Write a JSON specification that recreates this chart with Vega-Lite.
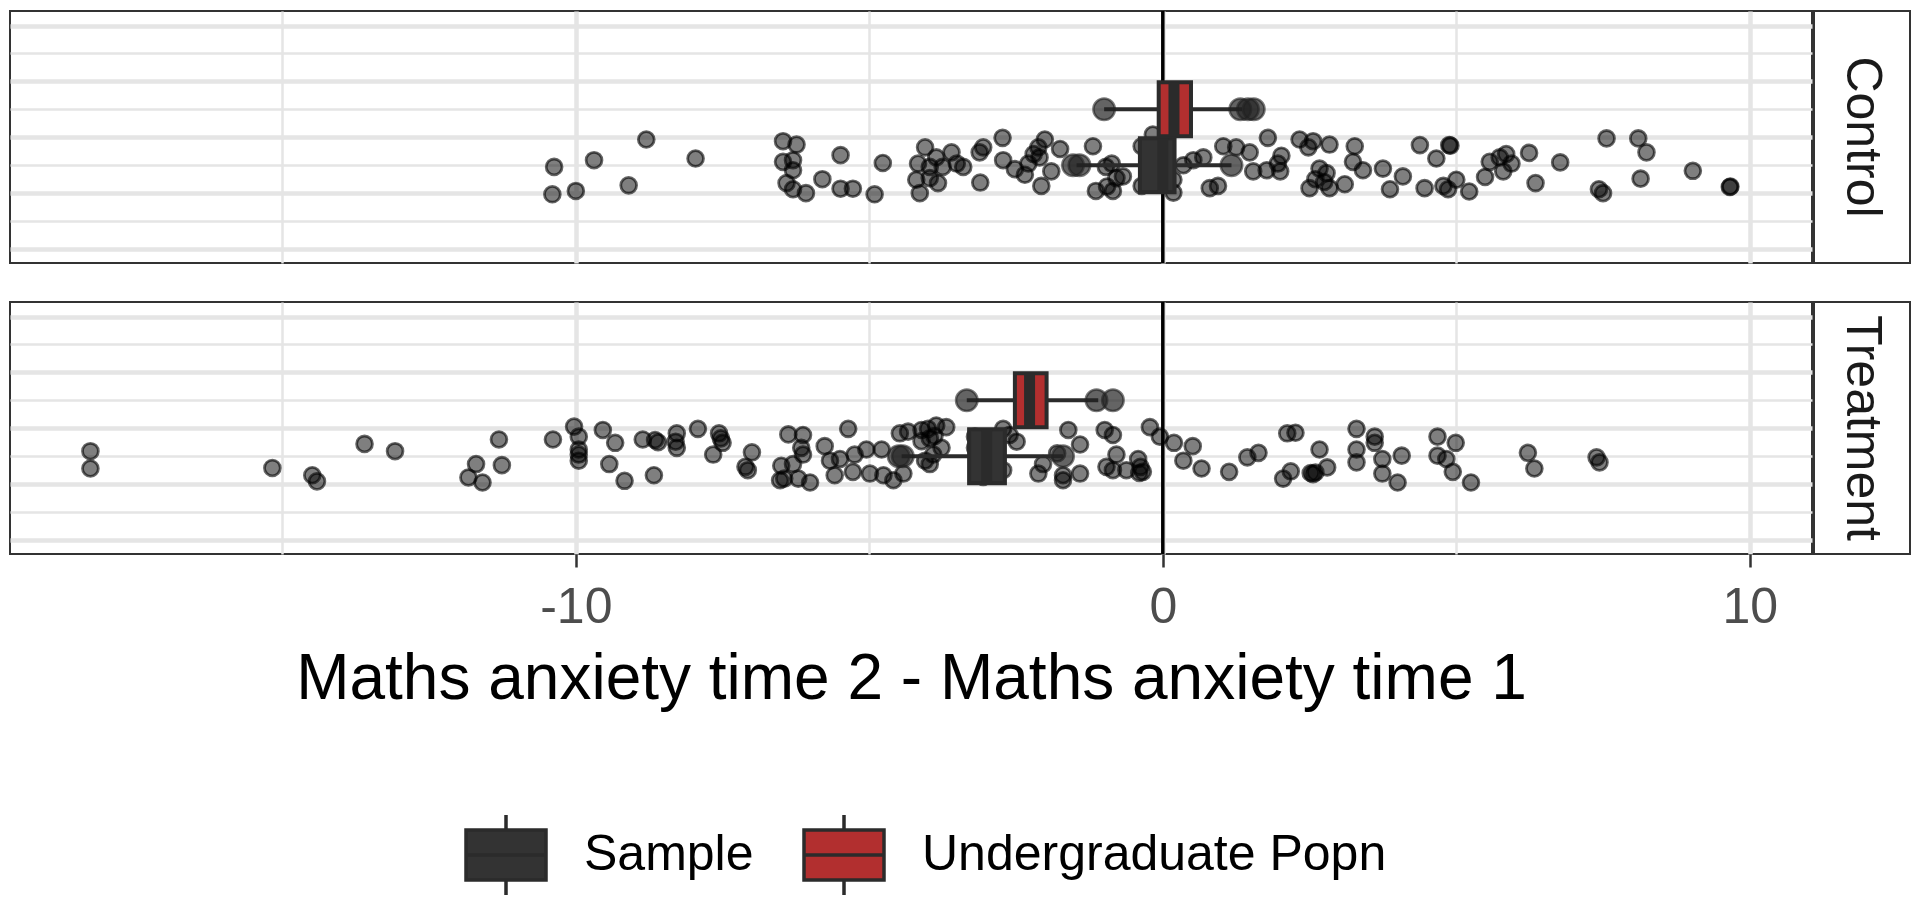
{
  "$schema": "https://vega.github.io/schema/vega-lite/v6.json",
  "background": "white",
  "padding": {"left": 9, "top": 8, "right": 5, "bottom": 5},
  "config": {
    "font": "Liberation Sans",
    "view": {"stroke": "#333333", "strokeWidth": 2},
    "axisY": {"minExtent": 0, "maxExtent": 0, "offset": 0}
  },
  "datasets": {
    "points": [
      {"group":"Control","x":-10.37,"y":1.47},{"group":"Control","x":-10.40,"y":0.98},{"group":"Control","x":-10.0,"y":1.04},{"group":"Control","x":-9.69,"y":1.59},{"group":"Control","x":-9.10,"y":1.14},{"group":"Control","x":-8.80,"y":1.96},{"group":"Control","x":-7.96,"y":1.62},{"group":"Control","x":-6.47,"y":1.93},{"group":"Control","x":-6.24,"y":1.87},{"group":"Control","x":-6.47,"y":1.56},{"group":"Control","x":-6.30,"y":1.59},{"group":"Control","x":-6.30,"y":1.41},{"group":"Control","x":-6.41,"y":1.18},{"group":"Control","x":-6.30,"y":1.07},{"group":"Control","x":-6.08,"y":1.00},{"group":"Control","x":-5.80,"y":1.25},{"group":"Control","x":-5.49,"y":1.68},{"group":"Control","x":-5.49,"y":1.08},{"group":"Control","x":-5.28,"y":1.08},{"group":"Control","x":-4.91,"y":0.98},{"group":"Control","x":-4.77,"y":1.54},{"group":"Control","x":-4.05,"y":1.82},{"group":"Control","x":-4.17,"y":1.53},{"group":"Control","x":-4.14,"y":1.00},{"group":"Control","x":-4.20,"y":1.24},{"group":"Control","x":-3.97,"y":1.27},{"group":"Control","x":-3.83,"y":1.18},{"group":"Control","x":-3.86,"y":1.64},{"group":"Control","x":-3.60,"y":1.73},{"group":"Control","x":-3.51,"y":1.53},{"group":"Control","x":-3.97,"y":1.47},{"group":"Control","x":-3.75,"y":1.47},
      {"group":"Control","x":-3.40,"y":1.47},{"group":"Control","x":-3.12,"y":1.73},{"group":"Control","x":-3.06,"y":1.82},{"group":"Control","x":-3.11,"y":1.19},{"group":"Control","x":-2.73,"y":1.99},{"group":"Control","x":-2.72,"y":1.59},{"group":"Control","x":-2.52,"y":1.43},{"group":"Control","x":-2.35,"y":1.33},{"group":"Control","x":-2.29,"y":1.53},{"group":"Control","x":-2.12,"y":1.82},{"group":"Control","x":-2.01,"y":1.96},{"group":"Control","x":-2.10,"y":1.64},{"group":"Control","x":-2.07,"y":1.13},{"group":"Control","x":-1.90,"y":1.39},{"group":"Control","x":-1.75,"y":1.79},{"group":"Control","x":-1.19,"y":1.84},{"group":"Control","x":-1.14,"y":1.04},{"group":"Control","x":-0.87,"y":1.53},{"group":"Control","x":-0.85,"y":1.04},{"group":"Control","x":-0.79,"y":1.27},{"group":"Control","x":-0.68,"y":1.30},{"group":"Control","x":-0.36,"y":1.84},{"group":"Control","x":-0.36,"y":1.13},{"group":"Control","x":0.18,"y":1.24},{"group":"Control","x":0.18,"y":1.01},{"group":"Control","x":-0.17,"y":2.05},{"group":"Control","x":0.52,"y":1.59},{"group":"Control","x":0.69,"y":1.64},{"group":"Control","x":0.80,"y":1.09},{"group":"Control","x":0.94,"y":1.13},{"group":"Control","x":1.03,"y":1.84},{"group":"Control","x":1.25,"y":1.82},{"group":"Control","x":1.48,"y":1.73},{"group":"Control","x":1.54,"y":1.39},{"group":"Control","x":1.77,"y":1.41},{"group":"Control","x":1.79,"y":1.99},{"group":"Control","x":1.96,"y":1.53},{"group":"Control","x":2.02,"y":1.67},{"group":"Control","x":2.00,"y":1.39},{"group":"Control","x":2.33,"y":1.96},{"group":"Control","x":2.48,"y":1.82},{"group":"Control","x":2.56,"y":1.93},{"group":"Control","x":2.84,"y":1.87},{"group":"Control","x":2.67,"y":1.44},{"group":"Control","x":2.79,"y":1.36},{"group":"Control","x":2.50,"y":1.09},{"group":"Control","x":2.84,"y":1.09},{"group":"Control","x":3.10,"y":1.16},{"group":"Control","x":3.27,"y":1.84},{"group":"Control","x":3.24,"y":1.56},{"group":"Control","x":3.41,"y":1.41},{"group":"Control","x":3.75,"y":1.44},{"group":"Control","x":3.87,"y":1.07},
      {"group":"Control","x":-2.2,"y":1.7},{"group":"Control","x":-0.95,"y":1.12},{"group":"Control","x":2.6,"y":1.25},{"group":"Control","x":2.75,"y":1.2},{"group":"Control","x":-0.97,"y":1.47},{"group":"Control","x":0.35,"y":1.5},
      {"group":"Control","x":4.09,"y":1.30},{"group":"Control","x":4.38,"y":1.86},{"group":"Control","x":4.66,"y":1.62},{"group":"Control","x":4.88,"y":1.86},{"group":"Control","x":4.90,"y":1.85},{"group":"Control","x":4.46,"y":1.09},{"group":"Control","x":4.78,"y":1.13},{"group":"Control","x":4.86,"y":1.07},{"group":"Control","x":5.00,"y":1.24},{"group":"Control","x":5.22,"y":1.03},{"group":"Control","x":5.49,"y":1.29},{"group":"Control","x":5.57,"y":1.56},{"group":"Control","x":5.74,"y":1.64},{"group":"Control","x":5.85,"y":1.70},{"group":"Control","x":5.80,"y":1.39},{"group":"Control","x":5.94,"y":1.53},{"group":"Control","x":6.24,"y":1.72},{"group":"Control","x":6.35,"y":1.18},{"group":"Control","x":6.77,"y":1.55},{"group":"Control","x":7.43,"y":1.07},{"group":"Control","x":7.50,"y":1.00},{"group":"Control","x":7.56,"y":1.98},{"group":"Control","x":8.10,"y":1.98},{"group":"Control","x":8.24,"y":1.73},{"group":"Control","x":8.14,"y":1.26},{"group":"Control","x":9.03,"y":1.40},{"group":"Control","x":9.66,"y":1.11},{"group":"Control","x":9.67,"y":1.12},
      {"group":"Treatment","x":-18.27,"y":1.59},{"group":"Treatment","x":-18.27,"y":1.28},{"group":"Treatment","x":-15.17,"y":1.29},{"group":"Treatment","x":-14.49,"y":1.16},{"group":"Treatment","x":-14.41,"y":1.05},{"group":"Treatment","x":-13.60,"y":1.72},{"group":"Treatment","x":-13.08,"y":1.59},{"group":"Treatment","x":-11.83,"y":1.12},{"group":"Treatment","x":-11.59,"y":1.03},{"group":"Treatment","x":-11.70,"y":1.36},{"group":"Treatment","x":-11.26,"y":1.34},{"group":"Treatment","x":-11.31,"y":1.80},{"group":"Treatment","x":-10.39,"y":1.80},{"group":"Treatment","x":-10.03,"y":2.03},{"group":"Treatment","x":-9.95,"y":1.85},{"group":"Treatment","x":-9.95,"y":1.62},{"group":"Treatment","x":-9.95,"y":1.42},{"group":"Treatment","x":-9.95,"y":1.53},{"group":"Treatment","x":-9.54,"y":1.97},{"group":"Treatment","x":-9.33,"y":1.74},{"group":"Treatment","x":-9.43,"y":1.36},{"group":"Treatment","x":-9.17,"y":1.06},{"group":"Treatment","x":-8.86,"y":1.80},{"group":"Treatment","x":-8.65,"y":1.79},{"group":"Treatment","x":-8.60,"y":1.75},{"group":"Treatment","x":-8.67,"y":1.16},{"group":"Treatment","x":-8.28,"y":1.91},{"group":"Treatment","x":-8.28,"y":1.65},{"group":"Treatment","x":-8.30,"y":1.76},{"group":"Treatment","x":-7.92,"y":1.99},{"group":"Treatment","x":-7.66,"y":1.53},{"group":"Treatment","x":-7.56,"y":1.91},{"group":"Treatment","x":-7.50,"y":1.74},{"group":"Treatment","x":-7.53,"y":1.82},{"group":"Treatment","x":-7.00,"y":1.57},{"group":"Treatment","x":-7.11,"y":1.31},{"group":"Treatment","x":-7.07,"y":1.25},
      {"group":"Treatment","x":-6.38,"y":1.89},{"group":"Treatment","x":-6.13,"y":1.88},{"group":"Treatment","x":-6.16,"y":1.65},{"group":"Treatment","x":-6.13,"y":1.53},{"group":"Treatment","x":-6.50,"y":1.33},{"group":"Treatment","x":-6.30,"y":1.36},{"group":"Treatment","x":-6.52,"y":1.07},{"group":"Treatment","x":-6.45,"y":1.10},{"group":"Treatment","x":-6.21,"y":1.10},{"group":"Treatment","x":-6.01,"y":1.03},{"group":"Treatment","x":-5.76,"y":1.68},{"group":"Treatment","x":-5.67,"y":1.42},{"group":"Treatment","x":-5.59,"y":1.16},{"group":"Treatment","x":-5.50,"y":1.45},{"group":"Treatment","x":-5.36,"y":1.99},
      {"group":"Treatment","x":-5.25,"y":1.53},{"group":"Treatment","x":-5.28,"y":1.22},{"group":"Treatment","x":-5.05,"y":1.62},{"group":"Treatment","x":-4.99,"y":1.19},{"group":"Treatment","x":-4.79,"y":1.62},{"group":"Treatment","x":-4.76,"y":1.16},{"group":"Treatment","x":-4.59,"y":1.07},{"group":"Treatment","x":-4.48,"y":1.91},{"group":"Treatment","x":-4.34,"y":1.94},{"group":"Treatment","x":-4.42,"y":1.19},{"group":"Treatment","x":-4.11,"y":1.97},{"group":"Treatment","x":-4.00,"y":1.99},{"group":"Treatment","x":-3.86,"y":2.05},{"group":"Treatment","x":-3.69,"y":2.02},{"group":"Treatment","x":-4.11,"y":1.77},{"group":"Treatment","x":-3.97,"y":1.82},{"group":"Treatment","x":-3.89,"y":1.86},{"group":"Treatment","x":-4.05,"y":1.42},{"group":"Treatment","x":-3.97,"y":1.36},{"group":"Treatment","x":-3.77,"y":1.65},{"group":"Treatment","x":-3.91,"y":1.53},{"group":"Treatment","x":-3.20,"y":1.85},{"group":"Treatment","x":-3.20,"y":1.65},{"group":"Treatment","x":-3.06,"y":1.13},{"group":"Treatment","x":-2.72,"y":1.99},{"group":"Treatment","x":-2.61,"y":1.88},{"group":"Treatment","x":-2.49,"y":1.76},{"group":"Treatment","x":-2.72,"y":1.25},{"group":"Treatment","x":-2.12,"y":1.19},{"group":"Treatment","x":-2.04,"y":1.36},{"group":"Treatment","x":-1.61,"y":1.97},{"group":"Treatment","x":-1.41,"y":1.71},{"group":"Treatment","x":-1.80,"y":1.55},{"group":"Treatment","x":-1.70,"y":1.16},{"group":"Treatment","x":-1.41,"y":1.19},{"group":"Treatment","x":-1.70,"y":1.07},{"group":"Treatment","x":-0.99,"y":1.97},{"group":"Treatment","x":-0.85,"y":1.88},{"group":"Treatment","x":-0.79,"y":1.53},{"group":"Treatment","x":-0.96,"y":1.31},{"group":"Treatment","x":-0.85,"y":1.25},{"group":"Treatment","x":-0.62,"y":1.25},{"group":"Treatment","x":-0.42,"y":1.45},{"group":"Treatment","x":-0.38,"y":1.31},{"group":"Treatment","x":-0.34,"y":1.22},{"group":"Treatment","x":-0.40,"y":1.20},{"group":"Treatment","x":-0.22,"y":2.02},{"group":"Treatment","x":-0.05,"y":1.85},
      {"group":"Treatment","x":0.19,"y":1.74},{"group":"Treatment","x":0.51,"y":1.68},{"group":"Treatment","x":0.35,"y":1.42},{"group":"Treatment","x":0.66,"y":1.28},{"group":"Treatment","x":1.13,"y":1.22},{"group":"Treatment","x":1.44,"y":1.48},{"group":"Treatment","x":1.63,"y":1.56},{"group":"Treatment","x":2.12,"y":1.91},{"group":"Treatment","x":2.26,"y":1.92},{"group":"Treatment","x":2.05,"y":1.10},{"group":"Treatment","x":2.18,"y":1.23},{"group":"Treatment","x":2.52,"y":1.20},{"group":"Treatment","x":2.56,"y":1.18},{"group":"Treatment","x":2.60,"y":1.21},{"group":"Treatment","x":2.80,"y":1.30},{"group":"Treatment","x":2.67,"y":1.62},{"group":"Treatment","x":3.30,"y":1.99},{"group":"Treatment","x":3.61,"y":1.85},{"group":"Treatment","x":3.61,"y":1.74},{"group":"Treatment","x":3.30,"y":1.62},{"group":"Treatment","x":3.30,"y":1.39},{"group":"Treatment","x":3.74,"y":1.45},{"group":"Treatment","x":4.07,"y":1.51},{"group":"Treatment","x":3.74,"y":1.19},{"group":"Treatment","x":4.00,"y":1.03},{"group":"Treatment","x":4.68,"y":1.85},{"group":"Treatment","x":4.99,"y":1.74},{"group":"Treatment","x":4.68,"y":1.51},{"group":"Treatment","x":4.83,"y":1.45},{"group":"Treatment","x":4.94,"y":1.22},{"group":"Treatment","x":5.25,"y":1.03},{"group":"Treatment","x":6.22,"y":1.56},{"group":"Treatment","x":6.33,"y":1.28},{"group":"Treatment","x":7.39,"y":1.48},{"group":"Treatment","x":7.44,"y":1.39}
    ],
    "boxes": [
      {"group":"Control","type":"Sample","level":1.5,"q1":-0.39,"q3":0.20,"med":0.0,"lo":-1.47,"hi":1.17},
      {"group":"Control","type":"Undergraduate Popn","level":2.5,"q1":-0.07,"q3":0.48,"med":0.19,"lo":-1.0,"hi":1.35},
      {"group":"Treatment","type":"Sample","level":1.5,"q1":-3.30,"q3":-2.69,"med":-3.0,"lo":-4.45,"hi":-1.70},
      {"group":"Treatment","type":"Undergraduate Popn","level":2.5,"q1":-2.52,"q3":-1.98,"med":-2.27,"lo":-3.34,"hi":-1.1}
    ],
    "outliers": [
      {"group":"Control","type":"Sample","level":1.5,"x":-1.53},
      {"group":"Control","type":"Sample","level":1.5,"x":-1.42},
      {"group":"Control","type":"Sample","level":1.5,"x":1.17},
      {"group":"Control","type":"Undergraduate Popn","level":2.5,"x":-1.0},
      {"group":"Control","type":"Undergraduate Popn","level":2.5,"x":1.32},
      {"group":"Control","type":"Undergraduate Popn","level":2.5,"x":1.45},
      {"group":"Control","type":"Undergraduate Popn","level":2.5,"x":1.55},
      {"group":"Treatment","type":"Sample","level":1.5,"x":-4.5},
      {"group":"Treatment","type":"Sample","level":1.5,"x":-4.43},
      {"group":"Treatment","type":"Sample","level":1.5,"x":-1.70},
      {"group":"Treatment","type":"Undergraduate Popn","level":2.5,"x":-3.34},
      {"group":"Treatment","type":"Undergraduate Popn","level":2.5,"x":-1.13},
      {"group":"Treatment","type":"Undergraduate Popn","level":2.5,"x":-0.85}
    ],
    "strips": [{"group":"Control"},{"group":"Treatment"}]
  },
  "resolve": {"scale": {"color": "shared"}, "legend": {"color": "shared"}},
  "spacing": 33,
  "vconcat": [
    {
      "spacing": 0,
      "hconcat": [
        {
          "width": 1802, "height": 252,
          "resolve": {"axis": {"y": "independent"}},
          "layer": [
            {
              "data": {"name": "points"},
              "transform": [{"filter": "datum.group === 'Control'"}],
              "mark": {"type": "circle", "size": 250, "color": "black", "fillOpacity": 0.5, "stroke": "black", "strokeOpacity": 0.6, "strokeWidth": 2.8},
              "encoding": {
                "x": {"field": "x", "type": "quantitative", "scale": {"domain": [-19.64, 11.06], "nice": false, "zero": false},
                  "axis": {"title": null, "labels": false, "ticks": false, "domain": false, "grid": true, "values": [-15, -10, -5, 0, 5, 10], "gridColor": "#E5E5E5", "gridOpacity": 1, "gridWidth": {"condition": {"test": "datum.value % 10 === 0", "value": 4.5}, "value": 2.5}}},
                "y": {"field": "y", "type": "quantitative", "scale": {"domain": [-0.16, 4.17], "nice": false, "zero": false},
                  "axis": {"orient": "left", "title": null, "labels": false, "ticks": false, "domain": false, "minExtent": 0, "maxExtent": 0, "grid": true, "values": [0.5, 1.5, 2.5, 3.5], "gridColor": "#E5E5E5", "gridOpacity": 1, "gridWidth": 2.5}}
              }
            },
            {
              "data": {"values": [{"zero": 0}]},
              "mark": {"type": "rule", "color": "black", "strokeWidth": 3.5},
              "encoding": {"x": {"field": "zero", "type": "quantitative"}}
            },
            {
              "data": {"name": "boxes"},
              "transform": [{"filter": "datum.group === 'Control'"}],
              "mark": {"type": "rule", "color": "#2b2b2b", "strokeWidth": 4},
              "encoding": {"x": {"field": "lo", "type": "quantitative"}, "x2": {"field": "hi"},
                "y": {"field": "level", "type": "quantitative", "axis": {"orient": "right", "title": null, "labels": false, "ticks": false, "domain": false, "minExtent": 0, "maxExtent": 0, "grid": true, "values": [0, 1, 2, 3, 4], "gridColor": "#E5E5E5", "gridOpacity": 1, "gridWidth": 4.5}}}
            },
            {
              "data": {"name": "boxes"},
              "transform": [{"filter": "datum.group === 'Control'"}],
              "mark": {"type": "bar", "orient": "horizontal", "size": 54, "stroke": "#2b2b2b", "strokeWidth": 4, "opacity": 1},
              "encoding": {
                "x": {"field": "q1", "type": "quantitative"}, "x2": {"field": "q3"},
                "y": {"field": "level", "type": "quantitative", "axis": null},
                "color": {"field": "type", "type": "nominal", "scale": {"domain": ["Sample", "Undergraduate Popn"], "range": ["#333333", "#B22F2F"]},
                  "legend": {"orient": "none", "legendX": 454, "legendY": 802, "direction": "horizontal", "title": null,
                    "symbolType": "M-1,-0.625H1V0.625H-1Z M-1,0H1 M0,-0.625V-1 M0,0.625V1", "symbolSize": 6400,
                    "symbolStrokeColor": "#2b2b2b", "symbolStrokeWidth": 3.5, "symbolOpacity": 1,
                    "labelFontSize": 50, "labelColor": "black", "labelOffset": 36, "columnPadding": 43, "labelLimit": 1000,
                    "encode": {"symbols": {"update": {"stroke": {"value": "#2b2b2b"}, "strokeWidth": {"value": 3.5}}}}}}
              }
            },
            {
              "data": {"name": "boxes"},
              "transform": [{"filter": "datum.group === 'Control'"}],
              "mark": {"type": "tick", "orient": "vertical", "size": 54, "thickness": 11, "color": "#2b2b2b", "opacity": 1},
              "encoding": {"x": {"field": "med", "type": "quantitative"}, "y": {"field": "level", "type": "quantitative", "axis": null}}
            },
            {
              "data": {"name": "outliers"},
              "transform": [{"filter": "datum.group === 'Control'"}],
              "mark": {"type": "circle", "size": 460, "color": "#222222", "fillOpacity": 0.7, "stroke": "#222222", "strokeOpacity": 0.6, "strokeWidth": 2.5},
              "encoding": {"x": {"field": "x", "type": "quantitative"}, "y": {"field": "level", "type": "quantitative", "axis": null}}
            }
          ]
        },
        {
          "width": 96, "height": 252,
          "view": {"stroke": null},
          "data": {"name": "strips"},
          "transform": [{"filter": "datum.group === 'Control'"}],
          "layer": [
            {"mark": {"type": "rect", "fill": "white", "stroke": "#333333", "strokeWidth": 2}, "encoding": {}},
            {"mark": {"type": "text", "angle": 90, "fontSize": 50, "color": "#1A1A1A", "font": "Liberation Sans"},
             "encoding": {"text": {"field": "group", "type": "nominal"}}}
          ]
        }
      ]
    },
    {
      "spacing": 0,
      "hconcat": [
        {
          "width": 1802, "height": 252,
          "resolve": {"axis": {"y": "independent"}},
          "layer": [
            {
              "data": {"name": "points"},
              "transform": [{"filter": "datum.group === 'Treatment'"}],
              "mark": {"type": "circle", "size": 250, "color": "black", "fillOpacity": 0.5, "stroke": "black", "strokeOpacity": 0.6, "strokeWidth": 2.8},
              "encoding": {
                "x": {"field": "x", "type": "quantitative", "scale": {"domain": [-19.64, 11.06], "nice": false, "zero": false},
                  "axis": {"title": "Maths anxiety time 2 - Maths anxiety time 1", "titleFontSize": 64, "titleFontWeight": "normal", "titleColor": "black", "titlePadding": 15,
                    "labelFontSize": 50, "labelColor": "#4D4D4D", "labelPadding": 15,
                    "labelExpr": "datum.value % 10 === 0 ? '' + datum.value : ''",
                    "ticks": true, "tickSize": 13, "tickWidth": 2.5, "tickColor": "#333333",
                    "tickOpacity": {"condition": {"test": "datum.value % 10 === 0", "value": 1}, "value": 0},
                    "domain": false, "grid": true, "values": [-15, -10, -5, 0, 5, 10], "gridColor": "#E5E5E5", "gridOpacity": 1, "gridWidth": {"condition": {"test": "datum.value % 10 === 0", "value": 4.5}, "value": 2.5}}},
                "y": {"field": "y", "type": "quantitative", "scale": {"domain": [-0.16, 4.17], "nice": false, "zero": false},
                  "axis": {"orient": "left", "title": null, "labels": false, "ticks": false, "domain": false, "minExtent": 0, "maxExtent": 0, "grid": true, "values": [0.5, 1.5, 2.5, 3.5], "gridColor": "#E5E5E5", "gridOpacity": 1, "gridWidth": 2.5}}
              }
            },
            {
              "data": {"values": [{"zero": 0}]},
              "mark": {"type": "rule", "color": "black", "strokeWidth": 3.5},
              "encoding": {"x": {"field": "zero", "type": "quantitative"}}
            },
            {
              "data": {"name": "boxes"},
              "transform": [{"filter": "datum.group === 'Treatment'"}],
              "mark": {"type": "rule", "color": "#2b2b2b", "strokeWidth": 4},
              "encoding": {"x": {"field": "lo", "type": "quantitative"}, "x2": {"field": "hi"},
                "y": {"field": "level", "type": "quantitative", "axis": {"orient": "right", "title": null, "labels": false, "ticks": false, "domain": false, "minExtent": 0, "maxExtent": 0, "grid": true, "values": [0, 1, 2, 3, 4], "gridColor": "#E5E5E5", "gridOpacity": 1, "gridWidth": 4.5}}}
            },
            {
              "data": {"name": "boxes"},
              "transform": [{"filter": "datum.group === 'Treatment'"}],
              "mark": {"type": "bar", "orient": "horizontal", "size": 54, "stroke": "#2b2b2b", "strokeWidth": 4, "opacity": 1},
              "encoding": {
                "x": {"field": "q1", "type": "quantitative"}, "x2": {"field": "q3"},
                "y": {"field": "level", "type": "quantitative", "axis": null},
                "color": {"field": "type", "type": "nominal", "scale": {"domain": ["Sample", "Undergraduate Popn"], "range": ["#333333", "#B22F2F"]},
                  "legend": {"orient": "none", "legendX": 454, "legendY": 802, "direction": "horizontal", "title": null,
                    "symbolType": "M-1,-0.625H1V0.625H-1Z M-1,0H1 M0,-0.625V-1 M0,0.625V1", "symbolSize": 6400,
                    "symbolStrokeColor": "#2b2b2b", "symbolStrokeWidth": 3.5, "symbolOpacity": 1,
                    "labelFontSize": 50, "labelColor": "black", "labelOffset": 36, "columnPadding": 43, "labelLimit": 1000,
                    "encode": {"symbols": {"update": {"stroke": {"value": "#2b2b2b"}, "strokeWidth": {"value": 3.5}}}}}}
              }
            },
            {
              "data": {"name": "boxes"},
              "transform": [{"filter": "datum.group === 'Treatment'"}],
              "mark": {"type": "tick", "orient": "vertical", "size": 54, "thickness": 11, "color": "#2b2b2b", "opacity": 1},
              "encoding": {"x": {"field": "med", "type": "quantitative"}, "y": {"field": "level", "type": "quantitative", "axis": null}}
            },
            {
              "data": {"name": "outliers"},
              "transform": [{"filter": "datum.group === 'Treatment'"}],
              "mark": {"type": "circle", "size": 460, "color": "#222222", "fillOpacity": 0.7, "stroke": "#222222", "strokeOpacity": 0.6, "strokeWidth": 2.5},
              "encoding": {"x": {"field": "x", "type": "quantitative"}, "y": {"field": "level", "type": "quantitative", "axis": null}}
            }
          ]
        },
        {
          "width": 96, "height": 252,
          "view": {"stroke": null},
          "data": {"name": "strips"},
          "transform": [{"filter": "datum.group === 'Treatment'"}],
          "layer": [
            {"mark": {"type": "rect", "fill": "white", "stroke": "#333333", "strokeWidth": 2}, "encoding": {}},
            {"mark": {"type": "text", "angle": 90, "fontSize": 50, "color": "#1A1A1A", "font": "Liberation Sans"},
             "encoding": {"text": {"field": "group", "type": "nominal"}}}
          ]
        }
      ]
    }
  ]
}
